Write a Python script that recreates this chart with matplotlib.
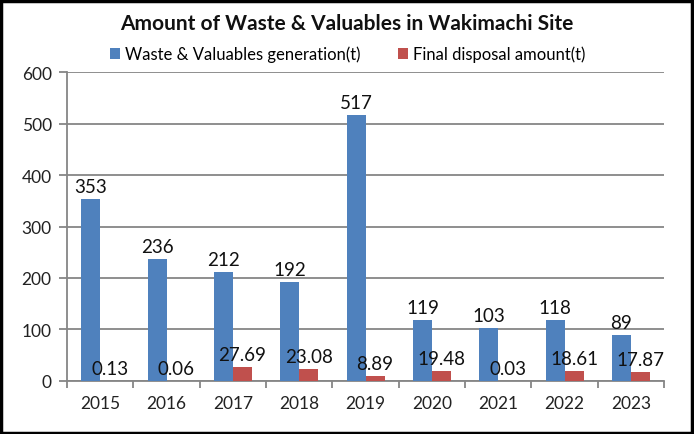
import matplotlib
matplotlib.use('Agg')
import matplotlib.pyplot as plt
import numpy as np
from matplotlib.patches import Rectangle

# ----------------- Data -----------------
years = ["2015", "2016", "2017", "2018", "2019", "2020", "2021", "2022", "2023"]
generation = [353, 236, 212, 192, 517, 119, 103, 118, 89]
disposal = [0.13, 0.06, 27.69, 23.08, 8.89, 19.48, 0.03, 18.61, 17.87]
disposal_labels = ["0.13", "0.06", "27.69", "23.08", "8.89", "19.48", "0.03", "18.61", "17.87"]

BLUE = '#4F81BD'
RED = '#C0504D'
GRID = '#868686'
plt.rcParams['font.family'] = ['Lato', 'DejaVu Sans']

fig = plt.figure(figsize=(6.94, 4.35), dpi=100)
ax = fig.add_axes([0.0965, 0.122, 0.8605, 0.71])

x = np.arange(len(years))
w = 0.286
ax.bar(x - w / 2, generation, w, color=BLUE, label="Waste & Valuables generation(t)", zorder=3)
ax.bar(x + w / 2, disposal, w, color=RED, label="Final disposal amount(t)", zorder=3)

# value labels
for xi, v in zip(x, generation):
    ax.annotate(str(v), (xi - w / 2, v), xytext=(0, 3), textcoords='offset points',
                ha='center', va='bottom', fontsize=13.5, color='#111111', zorder=4)
for xi, v, s in zip(x, disposal, disposal_labels):
    ax.annotate(s, (xi + w / 2, v), xytext=(0, 3), textcoords='offset points',
                ha='center', va='bottom', fontsize=13.5, color='#111111', zorder=4)

ax.set_xlim(-0.5, len(years) - 0.5)
ax.set_ylim(0, 600)
ax.set_yticks(range(0, 601, 100))
ax.yaxis.grid(True, color=GRID, linewidth=1.3, zorder=0)

ax.set_xticks(x)
ax.set_xticklabels(years, fontsize=12.5, color='#222222')
ax.tick_params(axis='x', length=0, pad=10)
ax.set_xticks(np.arange(-0.5, len(years)), minor=True)
ax.tick_params(axis='x', which='minor', length=5, color=GRID, width=1.3)
ax.tick_params(axis='y', length=6, color=GRID, width=1.3, labelsize=12.5, labelcolor='#222222', pad=5)

for side in ['top', 'right']:
    ax.spines[side].set_visible(False)
for side in ['left', 'bottom']:
    ax.spines[side].set_color(GRID)
    ax.spines[side].set_linewidth(1.3)

fig.text(0.5, 0.945, "Amount of Waste & Valuables in Wakimachi Site",
         ha='center', va='center', fontsize=15, fontweight='bold', color='#111111')

ax.legend(loc='center', bbox_to_anchor=(0.47, 1.058), ncol=2, frameon=False,
          fontsize=12, handlelength=0.6, handleheight=0.6, handletextpad=0.3,
          columnspacing=2.2, borderaxespad=0, borderpad=0)

# black frame around the figure
fig.patches.append(Rectangle((0.002, 0.003), 0.995, 0.993, transform=fig.transFigure,
                             fill=False, edgecolor='black', linewidth=2.5))

plt.savefig("out.png", dpi=100)
